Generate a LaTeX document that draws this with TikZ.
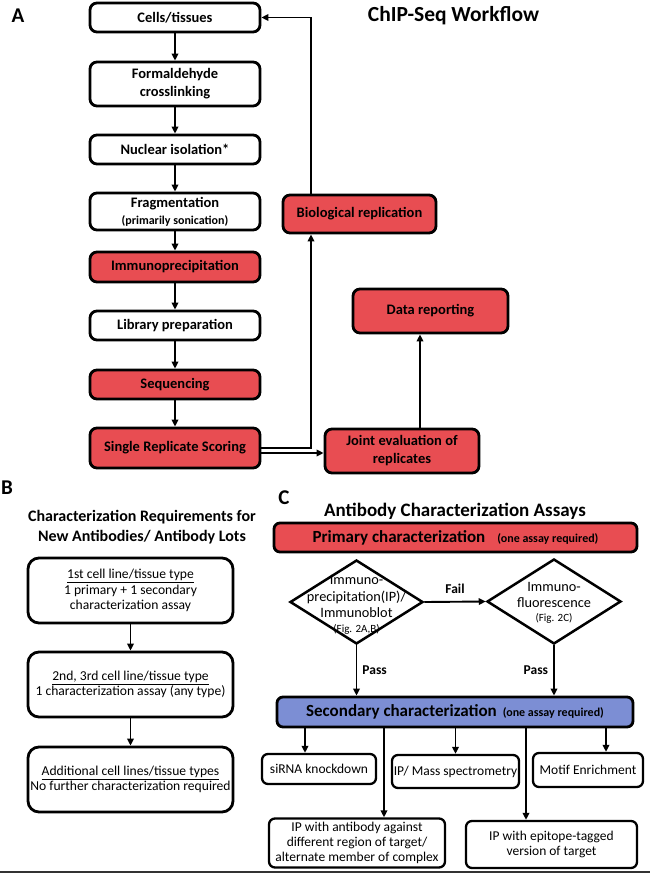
\documentclass[tikz,border=0pt]{standalone}
\usepackage{fontspec}
\setmainfont{Carlito}
\usetikzlibrary{arrows.meta,shapes.geometric,calc}
\definecolor{rd}{RGB}{232,77,82}
\definecolor{bl}{RGB}{124,142,212}
\begin{document}
\begin{tikzpicture}[x=1pt,y=-1pt,
  arr/.style={line width=1.9pt, -{Triangle[length=7pt,width=6.5pt]}},
  boxa/.style={draw, line width=2.8pt, rounded corners=7pt, fill=white, minimum width=170pt, inner sep=0pt, align=center, font=\fontsize{14.5}{18}\selectfont\bfseries},
  boxr/.style={draw, line width=2.8pt, rounded corners=7pt, fill=rd, inner sep=0pt, align=center, font=\fontsize{14.5}{18}\selectfont\bfseries},
  boxb/.style={draw, line width=2.8pt, rounded corners=11pt, fill=white, minimum width=205pt, minimum height=65pt, inner sep=0pt, align=center, font=\fontsize{13.6}{15.5}\selectfont},
  boxm/.style={draw, line width=2.8pt, rounded corners=6pt, inner sep=0pt, align=center, font=\fontsize{17}{20}\selectfont\bfseries},
  boxc/.style={draw, line width=2.3pt, rounded corners=6pt, fill=white, inner sep=0pt, align=center, font=\fontsize{13.5}{15}\selectfont},
  dia/.style={diamond, draw, line width=2.5pt, inner sep=0pt, minimum width=133pt, minimum height=84pt},
  dtext/.style={align=center, inner sep=0pt, font=\fontsize{14.3}{16.5}\selectfont},
  lab/.style={inner sep=0pt, font=\fontsize{13.5}{15}\selectfont\bfseries},
  panel/.style={inner sep=0pt, font=\fontsize{21}{24}\selectfont\bfseries},
  ttl/.style={inner sep=0pt, align=center, font=\fontsize{#1}{20}\selectfont\bfseries},
  ttl/.default=17
]
\fill[white] (0,0) rectangle (650,873);
\useasboundingbox (0,0) rectangle (650,873);

% ---------- Panel A ----------
\node[panel] (pA) at (18,16) {A};
\node[ttl=21.5] (tA) at (453.5,16) {ChIP-Seq Workflow};

\node[boxa, minimum height=29pt] (cells) at (175,17.5) {Cells/tissues};
\node[boxa, minimum height=44pt] (form) at (175,84) {Formaldehyde\\crosslinking};
\node[boxa, minimum height=29pt] (nuc) at (175,149.5) {Nuclear isolation*};
\node[boxa, minimum height=37pt] (frag) at (175,211.5) {Fragmentation\\[-1pt]{\fontsize{12}{13}\selectfont (primarily sonication)}};
\node[boxr, minimum width=170pt, minimum height=30pt] (imm) at (175,267) {Immunoprecipitation};
\node[boxa, minimum height=29pt] (lib) at (175,325.5) {Library preparation};
\node[boxr, minimum width=170pt, minimum height=29pt] (seq) at (175,384.5) {Sequencing};
\node[boxr, minimum width=170pt, minimum height=40pt] (single) at (175,448) {Single Replicate Scoring};
\node[boxr, minimum width=153pt, minimum height=38pt] (bio) at (359.5,214) {Biological replication};
\node[boxr, minimum width=155pt, minimum height=44pt] (data) at (430.5,311) {Data reporting};
\node[boxr, minimum width=154pt, minimum height=44pt] (joint) at (402,451) {Joint evaluation of\\replicates};

\draw[arr] (cells) -- (form);
\draw[arr] (form) -- (nuc);
\draw[arr] (nuc) -- (frag);
\draw[arr] (frag) -- (imm);
\draw[arr] (imm) -- (lib);
\draw[arr] (lib) -- (seq);
\draw[arr] (seq) -- (single);

\coordinate (fbt) at ([xshift=-48.5pt]bio.north);
\coordinate (fbb) at ([xshift=-48.5pt]bio.south);
\draw[arr] (fbt) |- (cells.east);
\draw[arr] (single.east) -| (fbb);
\coordinate (s2) at ([yshift=-5pt]single.east);
\draw[arr] (s2) -- (s2 -| joint.west);
\coordinate (jd) at ([xshift=-10.5pt]data.south);
\draw[arr] (jd |- joint.north) -- (jd);

% ---------- Panel B ----------
\node[panel] (pB) at (7,488) {B};
\node[ttl=16] (tB) at (142,527) {Characterization Requirements for\\New Antibodies/ Antibody Lots};
\node[boxb] (b1) at (130.5,590.5) {\underline{1st cell line/tissue type}\\1 primary + 1 secondary\\characterization assay};
\node[boxb] (b2) at (130.5,684.5) {\underline{2nd, 3rd cell line/tissue type}\\1 characterization assay (any type)};
\node[boxb] (b3) at (130.5,779.5) {\underline{Additional cell lines/tissue types}\\No further characterization required};
\draw[arr] (b1) -- (b2);
\draw[arr] (b2) -- (b3);

% ---------- Panel C ----------
\node[panel] (pC) at (284,498) {C};
\node[ttl=19] (tC) at (455,511) {Antibody Characterization Assays};
\node[boxm, fill=rd, minimum width=363pt, minimum height=29pt] (prim) at (455.5,537.5)
  {Primary characterization\hspace{12pt}{\fontsize{12}{14}\selectfont (one assay required)}};

\node[dia, label={[dtext, yshift=-3pt]center:{Immuno-\\precipitation(IP)/\\Immunoblot\\[-2pt]{\fontsize{11}{12}\selectfont (Fig. 2A,B)}}}] (d1) at (356.5,602) {};
\node[dia, minimum width=134pt, minimum height=85pt, label={[dtext, yshift=-1pt]center:{Immuno-\\fluorescence\\[-3pt]{\fontsize{11}{12}\selectfont (Fig. 2C)}}}] (d2) at (554,601.5) {};

\node[boxm, fill=bl, minimum width=356pt, minimum height=30pt] (sec) at (455,712)
  {Secondary characterization\hspace{6pt}{\fontsize{12}{14}\selectfont (one assay required)}};

\draw[arr] (d1.east) -- node[lab, above=7pt] (fail) {Fail} (d2.west);
\draw[arr] (d1.south) -- node[lab, right=5pt] (pass1) {Pass} (d1.south |- sec.north);
\draw[arr] (d2.south) -- node[lab, left=5pt] (pass2) {Pass} (d2.south |- sec.north);

\node[boxc, minimum width=114pt, minimum height=30pt] (sirna) at (319,769) {siRNA knockdown};
\node[boxc, minimum width=127pt, minimum height=33pt] (ipms) at (455.5,771.5) {IP/ Mass spectrometry};
\node[boxc, minimum width=110pt, minimum height=34pt] (motif) at (588,770) {Motif Enrichment};
\node[boxc, minimum width=176pt, minimum height=49pt] (ipab) at (357,843) {IP with antibody against\\different region of target/\\alternate member of complex};
\node[boxc, minimum width=171pt, minimum height=47pt] (ipep) at (551.5,844.5) {IP with epitope-tagged\\version of target};

\coordinate (c1) at ([xshift=-14pt]sirna.north);
\coordinate (c2) at ([xshift=27pt]ipab.north);
\coordinate (c3) at (ipms.north);
\coordinate (c4) at ([xshift=-25.5pt]ipep.north);
\coordinate (c5) at ([xshift=18pt]motif.north);
\draw[arr] (c1 |- sec.south) -- (c1);
\draw[arr] (c2 |- sec.south) -- (c2);
\draw[arr] (c3 |- sec.south) -- (c3);
\draw[arr] (c4 |- sec.south) -- (c4);
\draw[arr] (c5 |- sec.south) -- (c5);

\draw[line width=1.5pt, black!80] (0,872) -- (650,872);
\end{tikzpicture}
\end{document}
